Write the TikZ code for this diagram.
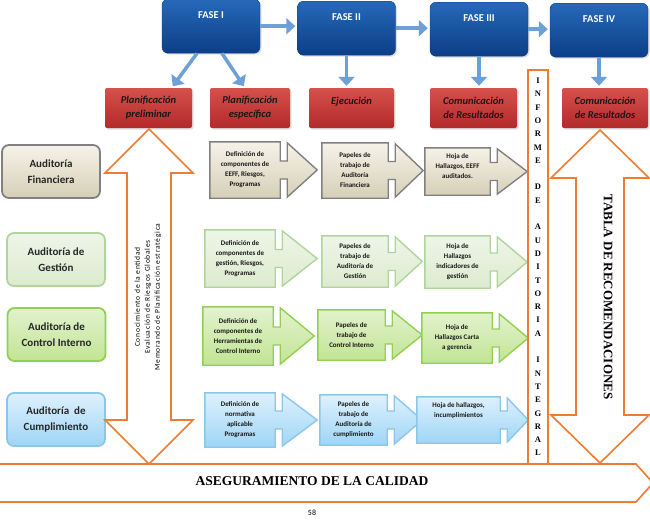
\documentclass[tikz,border=0pt]{standalone}
\usepackage{fontspec}
\setmainfont{Carlito}
\newfontfamily\serifb{Liberation Serif}
\newfontfamily\espaciada[LetterSpace=10]{Carlito}
\usepackage{tikz}
\usetikzlibrary{arrows.meta, calc, shadows, backgrounds}

\definecolor{faseazul}{RGB}{38,105,185}
\definecolor{faseoscuro}{RGB}{12,62,135}
\definecolor{flechazul}{RGB}{108,160,215}
\definecolor{rojoclaro}{RGB}{214,80,76}
\definecolor{rojooscuro}{RGB}{178,42,42}
\definecolor{naranja}{RGB}{237,125,49}
\definecolor{finborde}{RGB}{128,128,128}
\definecolor{finarriba}{RGB}{245,242,233}
\definecolor{finabajo}{RGB}{214,207,182}
\definecolor{gesborde}{RGB}{176,212,156}
\definecolor{gesarriba}{RGB}{238,245,232}
\definecolor{gesabajo}{RGB}{220,235,207}
\definecolor{ctlborde}{RGB}{146,208,80}
\definecolor{ctlarriba}{RGB}{226,242,206}
\definecolor{ctlabajo}{RGB}{194,228,148}
\definecolor{cumborde}{RGB}{140,198,234}
\definecolor{cumarriba}{RGB}{222,241,253}
\definecolor{cumabajo}{RGB}{158,213,246}

\tikzset{
  fase/.style={rounded corners=6pt, top color=faseazul, bottom color=faseoscuro,
    draw=faseoscuro, text=white, font=\bfseries\fontsize{10.5}{12}\selectfont,
    minimum width=98pt, inner sep=0pt, text height=19pt, text depth=35pt,
    anchor=north, drop shadow={opacity=0.25, shadow xshift=1.5pt, shadow yshift=-1.5pt}},
  etapa/.style={rounded corners=2pt, top color=rojoclaro, bottom color=rojooscuro,
    align=center, font=\bfseries\itshape\fontsize{10.5}{14}\selectfont,
    minimum height=40pt, inner sep=0pt, text=black!90,
    drop shadow={opacity=0.25, shadow xshift=1.5pt, shadow yshift=-1.5pt}},
  flecha/.style={draw=flechazul, line width=3.5pt, shorten >=2pt,
    -{Triangle[length=9pt, width=16pt]}},
  aud/.style={rounded corners=7pt, line width=1.8pt, minimum width=98pt,
    minimum height=53pt, align=center, text=black!85,
    font=\bfseries\fontsize{11}{16}\selectfont},
  paso/.style={inner sep=0pt, align=center, text=black!90,
    font=\bfseries\fontsize{7}{10}\selectfont},
  fin/.style={draw=finborde, top color=finarriba, bottom color=finabajo},
  ges/.style={draw=gesborde, top color=gesarriba, bottom color=gesabajo},
  ctl/.style={draw=ctlborde, top color=ctlarriba, bottom color=ctlabajo},
  cum/.style={draw=cumborde, top color=cumarriba, bottom color=cumabajo},
  naranjo/.style={draw=naranja, line width=1.6pt, fill=white}
}

% flecha con cuerpo (#1 nodo, #2 estilo, #3 largo de la punta)
\newcommand{\pasoflecha}[3]{%
  \draw[#2, line width=1.4pt] (#1.north west) -- (#1.north east) -- ($(#1.east)+(0,-9)$)
    -- ++(7,0) -- ($(#1.north east)+(7,1)$) -- ($(#1.east)+(7+#3,0)$)
    -- ($(#1.south east)+(7,-1)$) -- ($(#1.east)+(7,9)$) -- ++(-7,0)
    -- (#1.south east) -- (#1.south west) -- cycle;}

\begin{document}
\begin{tikzpicture}[x=1pt, y=-1pt]
  \useasboundingbox (0,0) rectangle (650,522);

  % Fases
  \node[fase] (fase1) at (211,-1) {FASE I};
  \node[fase] (fase2) at (346.5,1) {FASE II};
  \node[fase] (fase3) at (479,2) {FASE III};
  \node[fase] (fase4) at (599,3) {FASE IV};

  \draw[flecha] (fase1.east) -- (fase1.east -| fase2.west);
  \draw[flecha] (fase2.east) -- (fase2.east -| fase3.west);
  \draw[flecha] (fase3.east) -- (fase3.east -| fase4.west);

  % Etapas
  \node[etapa, minimum width=87pt] (plan1) at (148.5,108) {Planificación\\preliminar};
  \node[etapa, minimum width=80pt] (plan2) at (250,108) {Planificación\\específica};
  \node[etapa, minimum width=85pt] (ejec) at (351.5,108) {Ejecución\\~};
  \node[etapa, minimum width=87pt] (com1) at (473.5,108) {Comunicación\\de Resultados};
  \node[etapa, minimum width=86pt] (com2) at (605,108) {Comunicación\\de Resultados};

  \draw[flecha] ([xshift=-14pt]fase1.south) -- ([xshift=23pt]plan1.north);
  \draw[flecha] ([xshift=11pt]fase1.south) -- ([xshift=-5pt]plan2.north);
  \draw[flecha] (fase2.south) -- (fase2.south |- ejec.north);
  \draw[flecha] (fase3.south) -- (fase3.south |- com1.north);
  \draw[flecha] (fase4.south) -- (fase4.south |- com2.north);

  % Auditorias
  \node[aud, fin] (afin) at (51,171.5) {Auditoría\\Financiera};
  \node[aud, ges] (ages) at (56,259.5) {Auditoría de\\Gestión};
  \node[aud, ctl] (actl) at (56.5,334.5) {Auditoría de\\Control Interno};
  \node[aud, cum] (acum) at (56,419.5) {Auditoría\ \ de\\Cumplimiento};

  % Pasos
  \node[paso, minimum width=70pt, minimum height=56pt] (fin1) at (245,170) {Definición de\\componentes de\\EEFF, Riesgos,\\Programas};
  \node[paso, minimum width=66pt, minimum height=55pt] (fin2) at (355,170.5) {Papeles de\\trabajo de\\Auditoría\\Financiera};
  \node[paso, minimum width=65pt, minimum height=47pt] (fin3) at (457.5,171.5) {Hoja de\\Hallazgos, EEFF\\auditados.\\~};

  \node[paso, minimum width=70pt, minimum height=57pt] (ges1) at (240,258.5) {Definición de\\componentes de\\gestión, Riesgos,\\Programas};
  \node[paso, minimum width=66pt, minimum height=51pt] (ges2) at (355,261.5) {Papeles de\\trabajo de\\Auditoría de\\Gestión};
  \node[paso, minimum width=65pt, minimum height=52pt] (ges3) at (457.5,262) {Hoja de\\Hallazgos\\indicadores de\\gestión};

  \node[paso, minimum width=70pt, minimum height=58pt] (ctl1) at (238,336) {Definición de\\componentes de\\Herramientas de\\Control Interno};
  \node[paso, minimum width=67pt, minimum height=50pt] (ctl2) at (351.5,335) {Papeles de\\trabajo de\\Control Interno};
  \node[paso, minimum width=70pt, minimum height=50pt] (ctl3) at (457,338) {Hoja de\\Hallazgos Carta\\a gerencia};

  \node[paso, minimum width=70pt, minimum height=54pt] (cum1) at (240,420) {Definición de\\normativa\\aplicable\\Programas};
  \node[paso, minimum width=67pt, minimum height=50pt] (cum2) at (353.5,420) {Papeles de\\trabajo de\\Auditoría de\\cumplimiento};
  \node[paso, minimum width=83pt, minimum height=46pt] (cum3) at (458.5,420) {Hoja de hallazgos,\\incumplimientos\\~\\~};

  \begin{scope}[on background layer]
    \pasoflecha{fin1}{fin}{30}
    \pasoflecha{fin2}{fin}{28}
    \pasoflecha{fin3}{fin}{30}
    \pasoflecha{ges1}{ges}{35}
    \pasoflecha{ges2}{ges}{27}
    \pasoflecha{ges3}{ges}{30}
    \pasoflecha{ctl1}{ctl}{34}
    \pasoflecha{ctl2}{ctl}{30}
    \pasoflecha{ctl3}{ctl}{29}
    \pasoflecha{cum1}{cum}{35}
    \pasoflecha{cum2}{cum}{28}
    \pasoflecha{cum3}{cum}{21}
  \end{scope}

  % Planificacion (flecha doble)
  \draw[naranjo] (149,129) -- (193,173) -- (171,173) -- (171,420) -- (193,420)
    -- (149,464) -- (105,420) -- (127,420) -- (127,173) -- (105,173) -- cycle;
  \node[rotate=90, align=center, font=\espaciada\fontsize{7.5}{10}\selectfont] (conoc) at (148,297)
    {Conocimiento de la entidad\\Evaluación de Riesgos Globales\\Memorando de Planificación estratégica};

  % Informe
  \node[naranjo, minimum width=20pt, minimum height=394pt, inner sep=0pt, align=center,
    font=\serifb\bfseries\fontsize{8.5}{13.3}\selectfont] (informe) at (538,267)
    {I\\N\\F\\O\\R\\M\\E\\[13.3pt]D\\E\\[13.3pt]A\\U\\D\\I\\T\\O\\R\\I\\A\\[13.3pt]I\\N\\T\\E\\G\\R\\A\\L};

  % Recomendaciones
  \draw[naranjo] (600,130) -- (649,178) -- (624,178) -- (624,415) -- (649,415)
    -- (600,463) -- (551,415) -- (576,415) -- (576,178) -- (551,178) -- cycle;
  \node[rotate=-90, font=\serifb\bfseries\fontsize{13}{15}\selectfont] (tabla) at (608,297)
    {TABLA DE RECOMENDACIONES};

  % Calidad
  \draw[naranjo] (-5,464) -- (636,464) -- (653,483) -- (636,502) -- (-5,502) -- cycle;
  \node[font=\serifb\bfseries\fontsize{13.5}{16}\selectfont] (calidad) at (312,481)
    {ASEGURAMIENTO DE LA CALIDAD};
  \node[font=\fontsize{8}{10}\selectfont] (pagina) at (312,513) {58};
\end{tikzpicture}
\end{document}
